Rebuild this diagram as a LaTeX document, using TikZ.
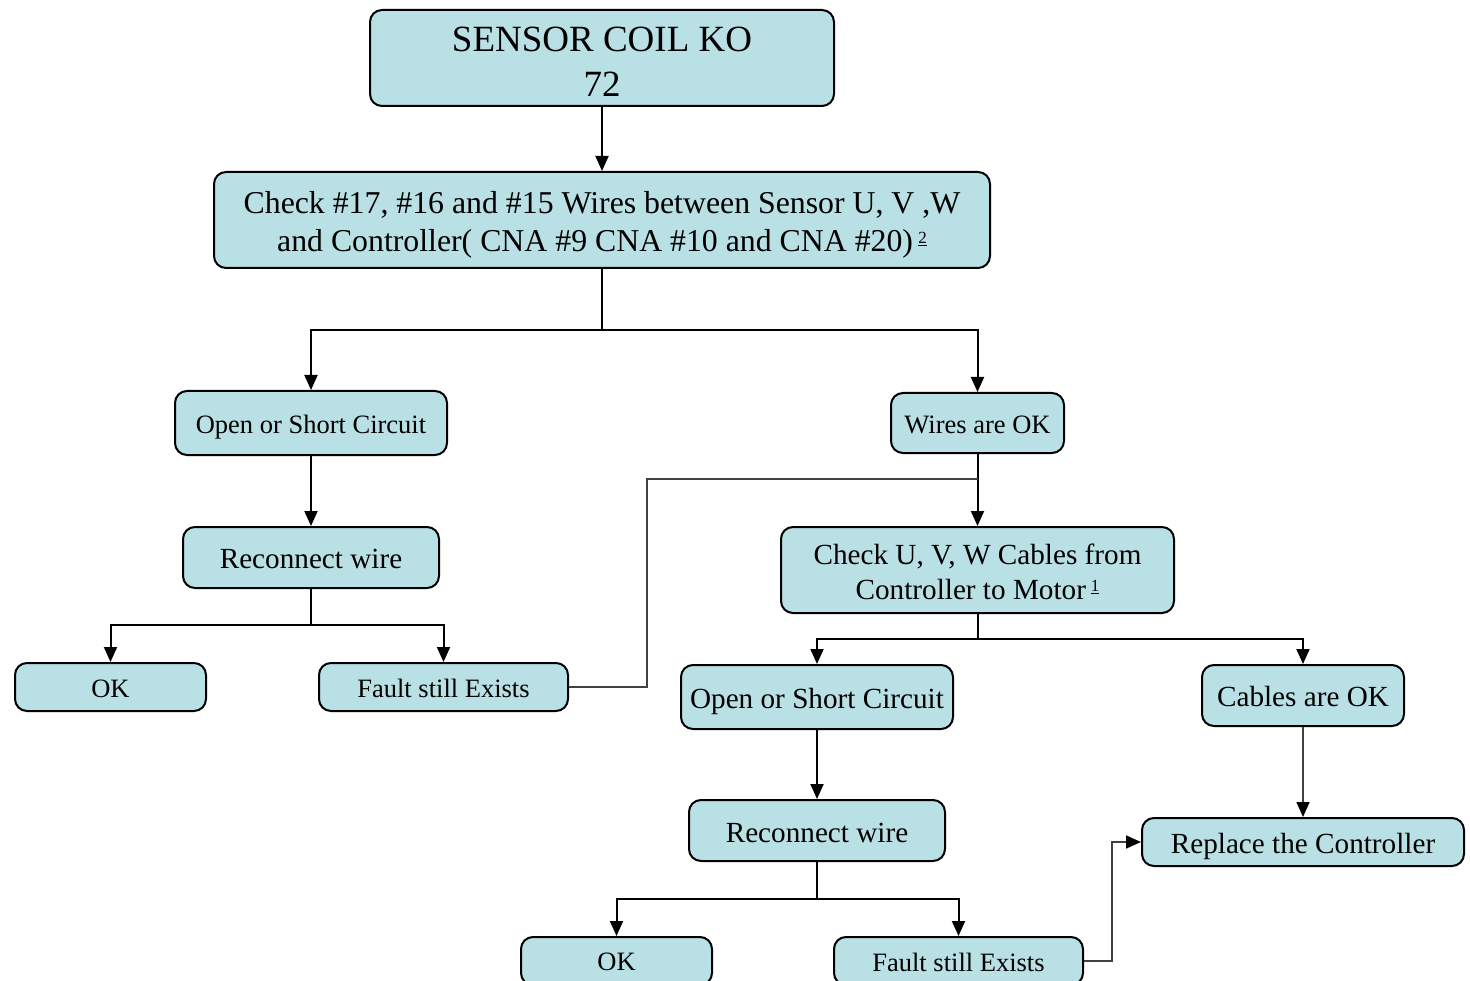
\documentclass[tikz,border=0pt]{standalone}
\usepackage{fontspec}
\setmainfont{Liberation Serif}
\usetikzlibrary{arrows.meta}
\definecolor{boxblue}{RGB}{185,224,228}
\tikzset{
  box/.style={draw=black, fill=boxblue, line width=2pt, rounded corners=12pt, inner sep=0pt, align=center, anchor=center},
  fsA/.style={font=\fontsize{37}{45}\selectfont},
  fsB/.style={font=\fontsize{31.8}{38}\selectfont},
  fsC/.style={font=\fontsize{29.2}{36}\selectfont},
  fsD/.style={font=\fontsize{26.5}{32}\selectfont},
  conn/.style={line width=2pt, draw=black},
  arr/.style={conn, -{Triangle[length=15pt,width=13pt]}},
  fb/.style={line width=1.6pt, draw=black!75},
  fbarr/.style={fb, -{Triangle[length=15pt,width=13pt,color=black]}},
}
\newcommand{\supnote}[1]{\,\raisebox{0.55ex}{\fontsize{17}{17}\selectfont\underline{#1}}}
\newcommand{\dn}[2][3pt]{\raisebox{-#1}[\height][\depth]{#2}}
\begin{document}
\begin{tikzpicture}[x=1pt,y=-1pt]
\useasboundingbox (0,0) rectangle (1470,981);
% nodes
\node[box,fsA,minimum width=464pt,minimum height=96pt] (title) at (602,58) {\dn[3.5pt]{SENSOR COIL KO}\\\dn[3.5pt]{72}};
\node[box,fsB,minimum width=776pt,minimum height=96pt] (check) at (602,220) {\dn[5pt]{Check \#17, \#16 and \#15 Wires between Sensor U, V ,W}\\\dn[5pt]{and Controller( CNA \#9 CNA \#10 and CNA \#20)\supnote{2}}};
\node[box,fsD,minimum width=272pt,minimum height=64pt] (open1) at (311,423) {\dn[4pt]{Open or Short Circuit}};
\node[box,fsD,minimum width=173pt,minimum height=60pt] (wires) at (977.5,423) {\dn[2pt]{Wires are OK}};
\node[box,fsC,minimum width=256pt,minimum height=61pt] (recon1) at (311,557.5) {\dn[1pt]{Reconnect wire}};
\node[box,fsD,minimum width=191pt,minimum height=48pt] (ok1) at (110.5,687) {\dn[2pt]{OK}};
\node[box,fsD,minimum width=249pt,minimum height=48pt] (fault1) at (443.5,687) {\dn[1pt]{Fault still Exists}};
\node[box,fsC,minimum width=393pt,minimum height=86pt] (cables) at (977.5,570) {\dn[2.5pt]{Check U, V, W Cables from}\\\dn[1pt]{Controller to Motor\supnote{1}}};
\node[box,fsC,minimum width=272pt,minimum height=64pt] (open2) at (817,697) {\dn[4pt]{Open or Short Circuit}};
\node[box,fsC,minimum width=202pt,minimum height=61pt] (cabok) at (1303,695.5) {\dn[1pt]{Cables are OK}};
\node[box,fsC,minimum width=256pt,minimum height=61pt] (recon2) at (817,830.5) {\dn[2pt]{Reconnect wire}};
\node[box,fsC,minimum width=322pt,minimum height=48pt] (replace) at (1303,842) {\dn[4pt]{Replace the Controller}};
\node[box,fsD,minimum width=191pt,minimum height=48pt] (ok2) at (616.5,961) {\dn[1pt]{OK}};
\node[box,fsD,minimum width=249pt,minimum height=48pt] (fault2) at (958.5,961) {\dn[1pt]{Fault still Exists}};
% junctions
\coordinate (j1) at (602,330);
\coordinate (j2) at (311,625);
\coordinate (j3) at (977.5,639);
\coordinate (j4) at (817,899);
\coordinate (fbA) at (647,479);
\coordinate (fbB) at (977.5,479);
\coordinate (fbC) at (1112,961);
% connectors
\draw[arr] (title.south) -- (check.north);
\draw[conn] (check.south) -- (j1);
\draw[arr] (j1) -| (open1.north);
\draw[arr] (j1) -| (wires.north);
\draw[arr] (open1.south) -- (recon1.north);
\draw[conn] (recon1.south) -- (j2);
\draw[arr] (j2) -| (ok1.north);
\draw[arr] (j2) -| (fault1.north);
\draw[arr] (wires.south) -- (cables.north);
\draw[fb] (fault1.east) -| (fbA) -- (fbB);
\draw[conn] (cables.south) -- (j3);
\draw[arr] (j3) -| (open2.north);
\draw[arr] (j3) -| (cabok.north);
\draw[arr] (open2.south) -- (recon2.north);
\draw[conn] (recon2.south) -- (j4);
\draw[arr] (j4) -| (ok2.north);
\draw[arr] (j4) -| (fault2.north);
\draw[fbarr] (cabok.south) -- (replace.north);
\draw[fbarr] (fault2.east) -- (fbC) |- (replace.west);
\end{tikzpicture}
\end{document}
